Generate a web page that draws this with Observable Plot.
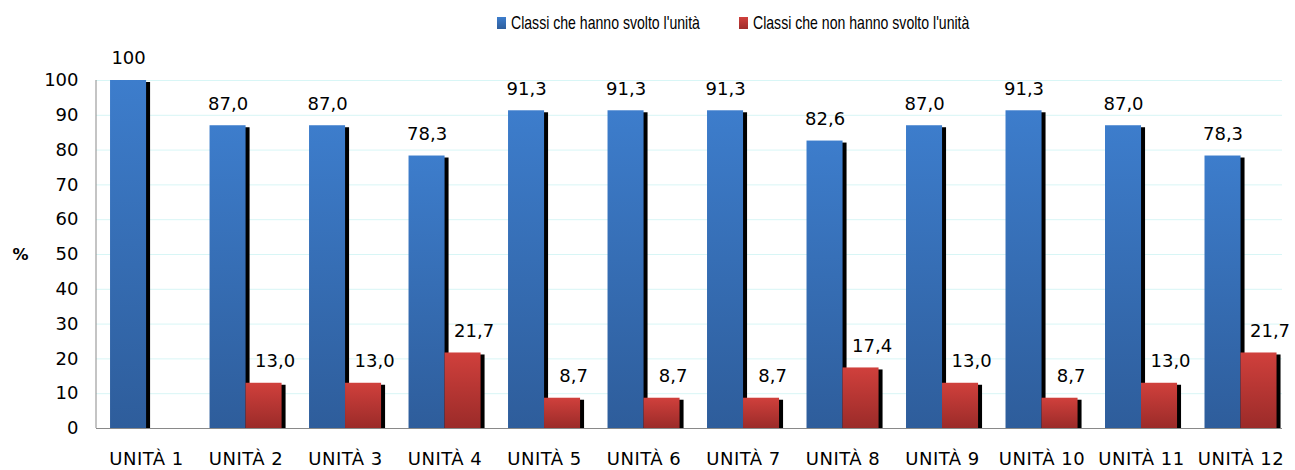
<!DOCTYPE html>
<html>
<head>
<meta charset="utf-8">
<script src="https://cdn.jsdelivr.net/npm/d3@7"></script>
<script src="https://cdn.jsdelivr.net/npm/@observablehq/plot@0.6"></script>
<style>
  body { margin: 0; background: #fff; }
  #legend { position: relative; width: 1295px; height: 46px; font-family: "Liberation Sans", Arial, sans-serif; font-size: 18.5px; color: #000; }
  .item { position: absolute; top: 17px; height: 14px; }
  .sw { position: absolute; left: 0; top: 0px; width: 9px; height: 12px; }
  .lbl { position: absolute; left: 14px; top: -4px; white-space: nowrap; transform: scaleX(0.761); transform-origin: 0 50%; line-height: 20px; }
  #chart svg { display: block; }
  #chart svg g[aria-label="x-axis tick label"] text { letter-spacing: 0.5px; }
</style>
</head>
<body>
<div id="legend"></div>
<div id="chart"></div>
<script>
const units = ["UNITÀ 1","UNITÀ 2","UNITÀ 3","UNITÀ 4","UNITÀ 5","UNITÀ 6","UNITÀ 7","UNITÀ 8","UNITÀ 9","UNITÀ 10","UNITÀ 11","UNITÀ 12"];
const svolto = [100, 87.0, 87.0, 78.3, 91.3, 91.3, 91.3, 82.6, 87.0, 91.3, 87.0, 78.3];
const nonSvolto = [null, 13.0, 13.0, 21.7, 8.7, 8.7, 8.7, 17.4, 13.0, 8.7, 13.0, 21.7];
const seriesNames = ["Classi che hanno svolto l'unità", "Classi che non hanno svolto l'unità"];
const yTicks = [0, 10, 20, 30, 40, 50, 60, 70, 80, 90, 100];

const fmt = v => v === 100 ? "100" : v.toFixed(1).replace(".", ",");
const blueData = units.map((u, i) => ({unit: u, v: svolto[i]}));
const redData = units.map((u, i) => ({unit: u, v: nonSvolto[i]})).filter(d => d.v != null);

// legend
const legend = d3.select("#legend");
const legendPos = [497, 739];
const legendGrad = ["linear-gradient(#3d7dcc,#2e5e9c)", "linear-gradient(#d0403c,#9e2c2a)"];
seriesNames.forEach((name, i) => {
  const it = legend.append("div").attr("class", "item").style("left", legendPos[i] + "px");
  it.append("div").attr("class", "sw").style("background", legendGrad[i]);
  it.append("span").attr("class", "lbl").text(name);
});

const defsMark = () => {
  const defs = d3.create("svg:defs");
  const g1 = defs.append("linearGradient").attr("id", "gBlue").attr("x1", 0).attr("y1", 0).attr("x2", 0).attr("y2", 1);
  g1.append("stop").attr("offset", "0%").attr("stop-color", "#3d7dcc");
  g1.append("stop").attr("offset", "100%").attr("stop-color", "#2e5d9b");
  const g2 = defs.append("linearGradient").attr("id", "gRed").attr("x1", 0).attr("y1", 0).attr("x2", 0).attr("y2", 1);
  g2.append("stop").attr("offset", "0%").attr("stop-color", "#d0403c");
  g2.append("stop").attr("offset", "100%").attr("stop-color", "#9b2b29");
  return defs.node();
};

const yAxisLine = (index, scales, values, dims) => {
  const x = dims.marginLeft;
  return d3.create("svg:line")
    .attr("x1", x).attr("x2", x)
    .attr("y1", scales.y(100)).attr("y2", scales.y(0))
    .attr("stroke", "#898989").attr("stroke-width", 1).node();
};

const plot = Plot.plot({
  width: 1295,
  height: 424,
  marginLeft: 96,
  marginRight: 13,
  marginTop: 34,
  marginBottom: 42,
  style: {fontFamily: "DejaVu Sans, sans-serif", fontSize: "18px", color: "#000", background: "#fff"},
  x: {domain: units, paddingInner: 0.276, paddingOuter: 0.098, align: 0.72, round: false, label: null},
  y: {domain: [0, 100], label: null},
  marks: [
    defsMark,
    Plot.gridY(yTicks, {stroke: "#d8f6f6", strokeOpacity: 1}),
    Plot.barY(blueData, {x: "unit", y: "v", fill: "#000", dx: 4, dy: 2, insetBottom: 2, insetRight: 36}),
    Plot.barY(redData, {x: "unit", y: "v", fill: "#000", dx: 4, dy: 2, insetBottom: 2, insetLeft: 36}),
    Plot.barY(blueData, {x: "unit", y: "v", fill: "url(#gBlue)", insetRight: 36}),
    Plot.barY(redData, {x: "unit", y: "v", fill: "url(#gRed)", insetLeft: 36}),
    Plot.ruleY([0], {stroke: "#898989"}),
    yAxisLine,
    Plot.axisY({ticks: yTicks, tickSize: 0, tickPadding: 18, fontSize: 18, label: null}),
    Plot.axisX({tickSize: 0, tickPadding: 24, fontSize: 18, label: null}),
    Plot.text(blueData, {x: "unit", y: "v", text: d => fmt(d.v), dx: -18, dy: -22, fontSize: 18}),
    Plot.text(redData, {x: "unit", y: "v", text: d => fmt(d.v), dx: 29, dy: -22, fontSize: 18}),
    Plot.text(["%"], {frameAnchor: "left", dx: -84, fontWeight: "bold", fontSize: 16})
  ]
});
document.getElementById("chart").appendChild(plot);
</script>
</body>
</html>
